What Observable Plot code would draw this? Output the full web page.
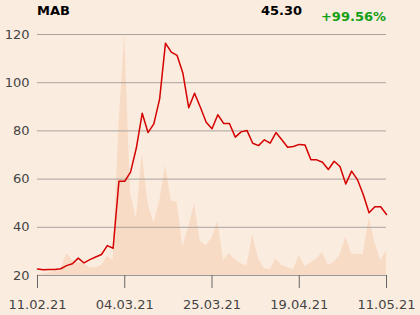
<!DOCTYPE html>
<html>
<head>
<meta charset="utf-8">
<script src="https://cdn.jsdelivr.net/npm/d3@7"></script>
<script src="https://cdn.jsdelivr.net/npm/@observablehq/plot@0.6"></script>
<style>
  html, body { margin: 0; padding: 0; background: #fbece0; }
  #chart { width: 420px; height: 315px; }
</style>
</head>
<body>
<div id="chart"></div>
<script>
// ---- data ----
const symbol = "MAB";
const lastPrice = "45.30";
const change = "+99.56%";

const tickIndex = [0, 15, 30, 45, 60];
const tickLabels = ["11.02.21", "04.03.21", "25.03.21", "19.04.21", "11.05.21"];

const yTicks = [20, 40, 60, 80, 100, 120];

// closing price per trading day (index 0..60)
const price = [
  22.7, 22.4, 22.5, 22.5, 22.8, 24.1, 24.9, 27.2, 25.2, 26.6,
  27.7, 28.7, 32.4, 31.3, 59.1, 59.1, 62.9, 73.0, 87.3, 79.3,
  82.9, 93.3, 116.4, 112.7, 111.3, 103.9, 89.6, 95.6, 89.8, 83.6,
  80.9, 86.7, 83.1, 83.1, 77.4, 79.6, 80.2, 74.9, 73.9, 76.3,
  74.9, 79.3, 76.3, 73.2, 73.5, 74.4, 74.1, 68.0, 68.0, 67.0,
  64.0, 67.4, 65.2, 58.0, 63.3, 59.8, 53.6, 46.0, 48.5, 48.5,
  45.3
];

// traded volume per day (relative units)
const volume = [
  0.4, 0.6, 1.0, 1.7, 2.1, 9.1, 6.2, 5.4, 4.9, 3.2,
  3.2, 4.0, 7.9, 6.2, 62.2, 99.6, 33.9, 23.5, 50.5, 29.8,
  21.7, 30.5, 45.6, 30.8, 30.3, 11.8, 20.4, 29.6, 14.1, 12.4,
  15.4, 22.5, 6.2, 9.0, 6.5, 4.9, 3.9, 16.9, 6.9, 2.8,
  2.5, 6.9, 4.1, 3.2, 2.4, 8.3, 3.7, 5.1, 6.9, 9.4,
  4.1, 5.5, 8.3, 15.9, 9.0, 8.7, 8.7, 23.8, 13.8, 6.2,
  10.0
];

const data = price.map((p, i) => ({i, p, v: volume[i]}));
const vmax = d3.max(volume);
const yMin = 20, yMax = 120;

const plot = Plot.plot({
  width: 420,
  height: 315,
  marginTop: 34,
  marginBottom: 40,
  marginLeft: 37,
  marginRight: 34,
  style: {
    background: "#fbece0",
    fontFamily: "DejaVu Sans",
    fontSize: "13px",
    color: "#444"
  },
  x: {domain: [0, 60]},
  y: {domain: [yMin, yMax]},
  marks: [
    Plot.areaY(data, {
      x: "i",
      y1: yMin,
      y2: d => yMin + d.v / vmax * (yMax - yMin),
      fill: "#f8dbc5",
      curve: "linear"
    }),
    Plot.gridY(yTicks, {stroke: "#a9a39e", strokeOpacity: 1, strokeWidth: 1}),
    Plot.ruleY([yMin], {stroke: "#999", strokeWidth: 1}),
    Plot.lineY(data, {x: "i", y: "p", stroke: "#d50000", strokeWidth: 1.5}),
    Plot.axisY(yTicks, {
      tickSize: 0,
      tickPadding: 8,
      fill: "#444",
      fontSize: 13,
      label: null
    }),
    Plot.axisX(tickIndex, {
      tickSize: 13,
      tickPadding: 11,
      stroke: "#666",
      fill: "#444",
      fontSize: 13,
      tickFormat: i => tickLabels[tickIndex.indexOf(i)],
      label: null
    })
  ]
});

const svg = d3.select(plot);
svg.append("text")
  .attr("x", 37).attr("y", 15)
  .attr("text-anchor", "start")
  .attr("font-family", "DejaVu Sans").attr("font-weight", "bold")
  .attr("font-size", 13).attr("fill", "#000")
  .text(symbol);
svg.append("text")
  .attr("x", 302).attr("y", 15)
  .attr("text-anchor", "end")
  .attr("font-family", "DejaVu Sans").attr("font-weight", "bold")
  .attr("font-size", 13).attr("fill", "#000")
  .text(lastPrice);
svg.append("text")
  .attr("x", 386).attr("y", 21)
  .attr("text-anchor", "end")
  .attr("font-family", "DejaVu Sans").attr("font-weight", "bold")
  .attr("font-size", 13).attr("fill", "#14a014")
  .text(change);

document.getElementById("chart").appendChild(plot);
</script>
</body>
</html>
